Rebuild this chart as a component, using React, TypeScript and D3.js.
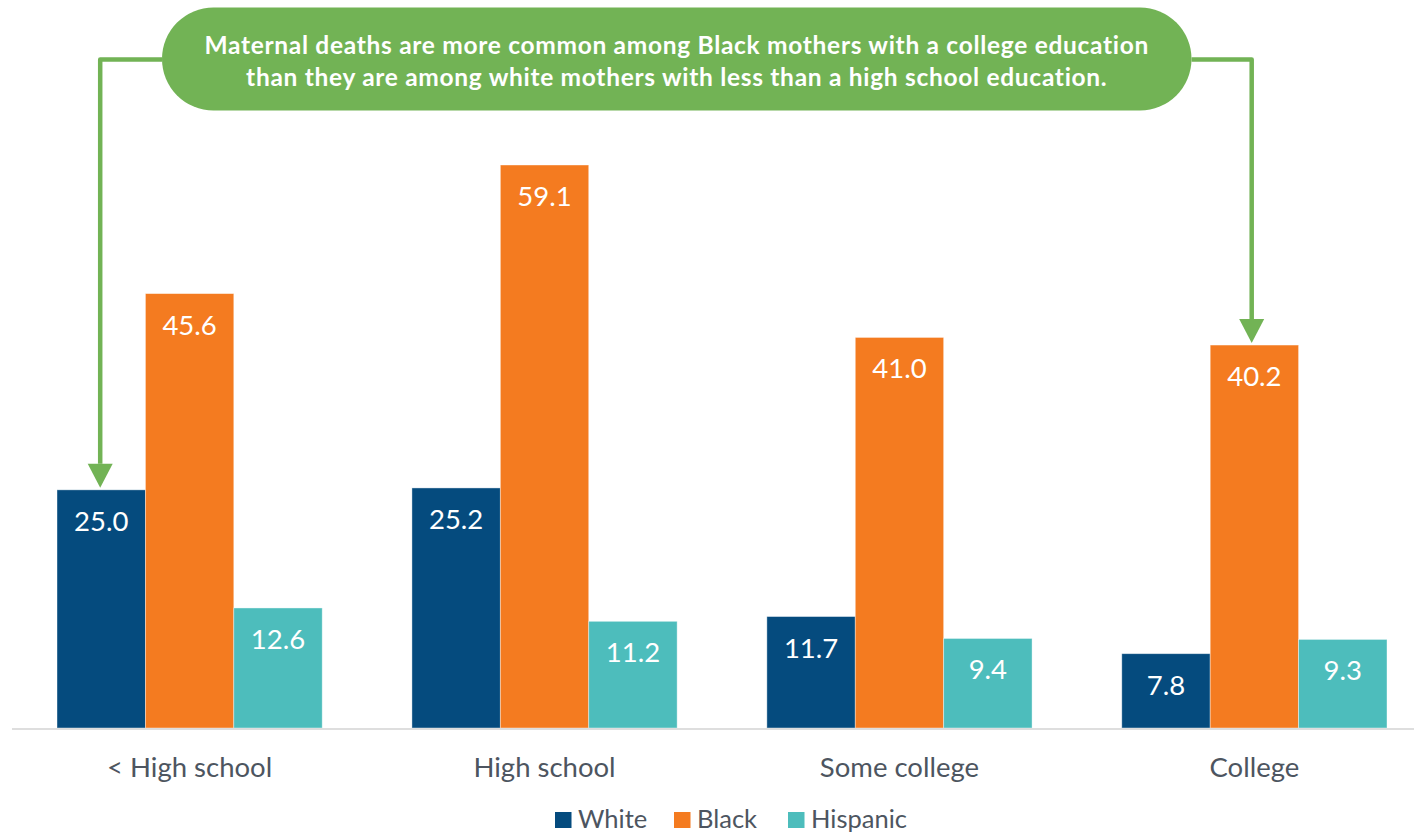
import React from "react";
import * as d3 from "d3";

const categories = ["< High school", "High school", "Some college", "College"];
const seriesNames = ["White", "Black", "Hispanic"];
const whiteValues = [25.0, 25.2, 11.7, 7.8];
const blackValues = [45.6, 59.1, 41.0, 40.2];
const hispanicValues = [12.6, 11.2, 9.4, 9.3];
const calloutLines = [
  "Maternal deaths are more common among Black mothers with a college education",
  "than they are among white mothers with less than a high school education.",
];

const colors = ["#054b7e", "#f47b20", "#4dbdbc"];
const green = "#72b355";
const W = 1414;
const H = 836;

export default function App() {
  const values = [whiteValues, blackValues, hispanicValues];
  const x0 = d3.scaleBand<string>().domain(categories).range([57, 1387]).paddingInner(0.2528).paddingOuter(0);
  const x1 = d3.scaleBand<string>().domain(seriesNames).range([0, x0.bandwidth()]).padding(0);
  const y = d3.scaleLinear().domain([0, 59.1]).range([728, 165]);
  const base = y(0);

  const leftX = x0(categories[0])! + x1("White")! + x1.bandwidth() / 2 - 1;
  const leftTip = y(whiteValues[0]) - 2;
  const rightX = x0(categories[3])! + x1("Black")! + x1.bandwidth() / 2 - 2.7;
  const rightTip = y(blackValues[3]) - 2;
  const bubbleL = 162, bubbleR = 1191.5, bubbleT = 7.5, bubbleB = 110.5;
  const midY = 59.5;
  const ah = 24, aw = 12.5;

  return (
    <svg width={W} height={H} style={{ position: "absolute", left: 0, top: 0, fontFamily: "Lato, 'Open Sans', sans-serif" }}>
      <rect x={0} y={0} width={W} height={H} fill="#fff" />
      {categories.map((c, ci) => (
        <g key={c} transform={`translate(${x0(c)},0)`}>
          {seriesNames.map((s, si) => {
            const v = values[si][ci];
            const bx = x1(s)!;
            return (
              <g key={s}>
                <rect x={bx} y={y(v)} width={x1.bandwidth()} height={base - y(v)} fill={colors[si]} stroke="#fff" strokeOpacity={0.5} strokeWidth={0.8} />
                <text x={bx + x1.bandwidth() / 2} y={y(v) + 41} textAnchor="middle" fill="#fff" fontSize={27.5}>
                  {v.toFixed(1)}
                </text>
              </g>
            );
          })}
          <text x={x0.bandwidth() / 2} y={777} textAnchor="middle" fill="#4d5560" fontSize={27.5}>
            {c}
          </text>
        </g>
      ))}
      <line x1={12} x2={W} y1={base + 1} y2={base + 1} stroke="#dedede" strokeWidth={2} />

      <path d={`M${bubbleL},${midY} H${leftX} V${leftTip - ah}`} fill="none" stroke={green} strokeWidth={4.5} strokeLinejoin="round" />
      <path d={`M${leftX - aw},${leftTip - ah} L${leftX + aw},${leftTip - ah} L${leftX},${leftTip} Z`} fill={green} />
      <path d={`M${bubbleR},${midY} H${rightX} V${rightTip - ah}`} fill="none" stroke={green} strokeWidth={4.5} strokeLinejoin="round" />
      <path d={`M${rightX - aw},${rightTip - ah} L${rightX + aw},${rightTip - ah} L${rightX},${rightTip} Z`} fill={green} />
      <rect x={bubbleL} y={bubbleT} width={bubbleR - bubbleL} height={bubbleB - bubbleT} rx={(bubbleB - bubbleT) / 2} fill={green} />
      {calloutLines.map((l, i) => (
        <text key={i} x={(bubbleL + bubbleR) / 2} y={54 + i * 32} textAnchor="middle" fill="#fff" fontSize={24.5} fontWeight={700} letterSpacing={0.7}>
          {l}
        </text>
      ))}

      {seriesNames.map((s, i) => {
        const lx = [555, 674, 788][i];
        return (
          <g key={s} transform={`translate(${lx},0)`}>
            <rect x={0} y={812} width={16.5} height={16} fill={colors[i]} />
            <text x={23} y={828} fill="#4d5560" fontSize={25.5}>{s}</text>
          </g>
        );
      })}
    </svg>
  );
}
